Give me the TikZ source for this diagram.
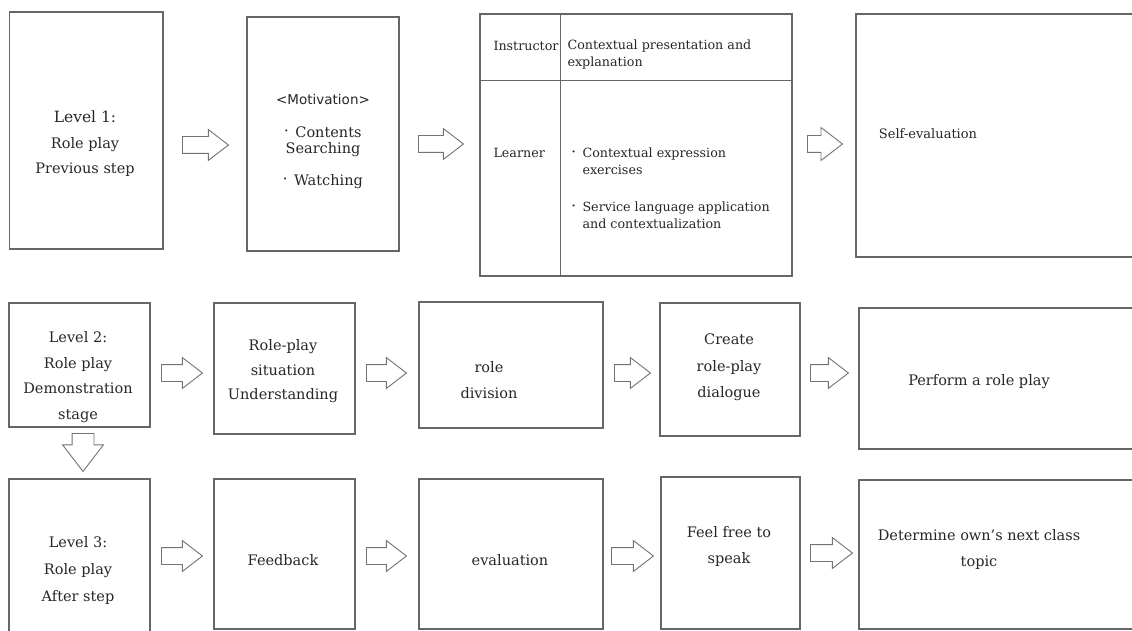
\documentclass[tikz,border=0pt]{standalone}
\usepackage{fontspec}
\setmainfont{DejaVu Serif}
\newfontfamily\motfont{DejaVu Sans}
\usepackage{xcolor}
\usepackage{tikz}
\usetikzlibrary{shapes.arrows, calc}

\newcommand{\tdot}{\makebox[11pt][l]{\raisebox{.45ex}{\scriptsize\textbullet}}}

\begin{document}
\begin{tikzpicture}[x=1pt, y=-1pt,
    box/.style={rectangle, draw=black!60, line width=1.3pt, inner sep=0pt},
    txt/.style={align=center, text=black!85, font=\fontsize{14.5}{25.5}\selectfont},
    tabtxt/.style={align=left, text=black!85, font=\fontsize{12.7}{17}\selectfont},
    flow/.style={single arrow, draw=black!55, fill=white, line width=0.9pt, inner xsep=0pt, inner ysep=8pt,
        minimum width=30pt, single arrow head extend=7pt, single arrow tip angle=75, anchor=tail},
    down/.style={flow, shape border rotate=270, inner xsep=10.5pt, inner ysep=0pt, minimum width=40pt, single arrow head extend=9.5pt}
]
    \useasboundingbox (0,0) rectangle (1132,631);
    \clip (0,0) rectangle (1132,631);

    % first row
    \node[box, minimum width=153.5pt, minimum height=237pt] (levelone) at (86.25,130.5) {};
    \node[box, minimum width=152pt, minimum height=234pt] (motiv) at (323,134) {};
    \node[box, minimum width=312pt, minimum height=262pt] (table) at (636,145) {};
    \node[box, minimum width=290pt, minimum height=243pt] (selfev) at (1001,135.5) {};
    \draw[black!60, line width=1.3pt] ([xshift=81pt]table.north west) -- ([xshift=81pt]table.south west);
    \draw[black!60, line width=1.3pt] ([yshift=-67pt]table.north west) -- ([yshift=-67pt]table.north east);

    \node[txt] (levelonetxt) at (85,144) {{\fontsize{15.5}{25.5}\selectfont Level 1:}\\Role play\\Previous step};
    \node[txt, font=\fontsize{14.5}{16}\selectfont] (motivtxt) at (323,141) {{\motfont\fontsize{13.5}{16}\selectfont <Motivation>}\\[17pt]\tdot Contents\\Searching\\[16pt]\tdot Watching};
    \node[tabtxt, anchor=west] (instr) at (490,46) {Instructor};
    \node[tabtxt, anchor=west] (present) at (564,54.5) {Contextual presentation and\\explanation};
    \node[tabtxt, anchor=west] (learner) at (490,153) {Learner};
    \node[tabtxt, anchor=west] (exercise) at (568,188) {\tdot Contextual expression\\\phantom{\tdot}exercises\\[20pt]\tdot Service language application\\\phantom{\tdot}and contextualization};
    \node[txt, font=\fontsize{13}{17}\selectfont] (selfevtxt) at (928,134) {Self-evaluation};

    \node[flow, minimum height=46pt] (a1) at (182,145) {};
    \node[flow, minimum height=45pt] (a2) at (418,144) {};
    \node[flow, minimum height=35pt, minimum width=32pt, single arrow head extend=8pt] (a3) at (807,144) {};

    % second row
    \node[box, minimum width=141pt, minimum height=124pt] (leveltwo) at (79.5,365) {};
    \node[box, minimum width=141pt, minimum height=131pt] (situation) at (284.5,368.5) {};
    \node[box, minimum width=184pt, minimum height=126pt] (division) at (511,365) {};
    \node[box, minimum width=140pt, minimum height=133pt] (dialogue) at (730,369.5) {};
    \node[box, minimum width=290pt, minimum height=141pt] (perform) at (1004,378.5) {};

    \node[txt] (leveltwotxt) at (78,377) {Level 2:\\Role play\\Demonstration\\stage};
    \node[txt, font=\fontsize{14.5}{24.5}\selectfont] (situationtxt) at (283,371.5) {Role-play\\situation\\Understanding};
    \node[txt, font=\fontsize{14.5}{26}\selectfont] (divisiontxt) at (489,380) {role\\division};
    \node[txt, font=\fontsize{14.5}{26.5}\selectfont] (dialoguetxt) at (729,367.5) {Create\\role-play\\dialogue};
    \node[txt] (performtxt) at (979,382) {Perform a role play};

    \node[flow, minimum height=41pt] (b1) at (161,373) {};
    \node[flow, minimum height=40pt] (b2) at (366,373) {};
    \node[flow, minimum height=36pt] (b3) at (614,373) {};
    \node[flow, minimum height=38pt] (b4) at (810,373) {};
    \node[down, minimum height=38pt] (d1) at (83,433) {};

    % third row
    \node[box, minimum width=141pt, minimum height=170pt] (levelthree) at (79.5,564) {};
    \node[box, minimum width=141pt, minimum height=150pt] (feedback) at (284.5,554) {};
    \node[box, minimum width=184pt, minimum height=150pt] (evaluation) at (511,554) {};
    \node[box, minimum width=139pt, minimum height=152pt] (speak) at (730.5,553) {};
    \node[box, minimum width=290pt, minimum height=149pt] (topic) at (1004,554.5) {};

    \node[txt, font=\fontsize{14.5}{27}\selectfont] (levelthreetxt) at (78,570) {Level 3:\\Role play\\After step};
    \node[txt] (feedbacktxt) at (283,560) {Feedback};
    \node[txt] (evaluationtxt) at (510,560) {evaluation};
    \node[txt, font=\fontsize{14.5}{26}\selectfont] (speaktxt) at (729,546) {Feel free to\\speak};
    \node[txt, font=\fontsize{14.5}{26}\selectfont] (topictxt) at (979,549) {Determine own's next class\\topic};

    \node[flow, minimum height=41pt] (c1) at (161,556) {};
    \node[flow, minimum height=40pt] (c2) at (366,556) {};
    \node[flow, minimum height=42pt] (c3) at (611,556) {};
    \node[flow, minimum height=42pt] (c4) at (810,553) {};
\end{tikzpicture}
\end{document}
